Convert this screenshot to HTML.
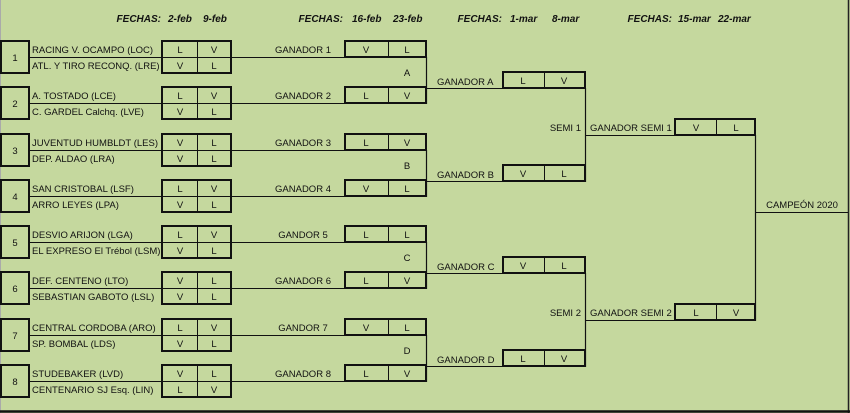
<!DOCTYPE html>
<html><head><meta charset="utf-8"><style>
html,body{margin:0;padding:0;background:#c5d89e;}
svg{display:block;}
text{font-family:"Liberation Sans",sans-serif;font-size:9.5px;fill:#111;}
.h{font-weight:bold;font-style:italic;font-size:10px;}
.c{text-anchor:middle;}
.r{text-anchor:end;}
</style></head><body>
<svg width="850" height="413" viewBox="0 0 850 413" xmlns="http://www.w3.org/2000/svg">
<rect x="0" y="0" width="850" height="413" fill="#c5d89e"/>
<line x1="0.5" y1="0" x2="0.5" y2="413" stroke="#aaa" stroke-width="1"/>
<line x1="848.5" y1="0" x2="848.5" y2="413" stroke="#222" stroke-width="1.5"/>
<line x1="0" y1="411.5" x2="850" y2="411.5" stroke="#111" stroke-width="2.5"/>
<!-- headers -->
<text class="h r" x="161" y="22">FECHAS:</text><text class="h" x="168" y="22">2-feb</text><text class="h" x="203" y="22">9-feb</text>
<text class="h r" x="343" y="22">FECHAS:</text><text class="h" x="352" y="22">16-feb</text><text class="h" x="393" y="22">23-feb</text>
<text class="h r" x="502" y="22">FECHAS:</text><text class="h" x="510" y="22">1-mar</text><text class="h" x="552" y="22">8-mar</text>
<text class="h r" x="672" y="22">FECHAS:</text><text class="h" x="678" y="22">15-mar</text><text class="h" x="718" y="22">22-mar</text>

<g stroke="#111" fill="none">
<!-- connection lines round1 -->
<line x1="29" y1="57.5" x2="426" y2="57.5" stroke-width="1"/>
<line x1="29" y1="103.5" x2="426" y2="103.5" stroke-width="1"/>
<line x1="29" y1="150.5" x2="426" y2="150.5" stroke-width="1"/>
<line x1="29" y1="196.5" x2="426" y2="196.5" stroke-width="1"/>
<line x1="29" y1="242.5" x2="426" y2="242.5" stroke-width="1"/>
<line x1="29" y1="288.5" x2="426" y2="288.5" stroke-width="1"/>
<line x1="29" y1="335.5" x2="426" y2="335.5" stroke-width="1"/>
<line x1="29" y1="381.5" x2="426" y2="381.5" stroke-width="1"/>
<line x1="426.5" y1="57" x2="426.5" y2="104" stroke-width="1.2"/>
<line x1="426.5" y1="150" x2="426.5" y2="197" stroke-width="1.2"/>
<line x1="426.5" y1="242" x2="426.5" y2="289" stroke-width="1.2"/>
<line x1="426.5" y1="335" x2="426.5" y2="382" stroke-width="1.2"/>
<!-- round3 lines -->
<line x1="426" y1="88.5" x2="585" y2="88.5" stroke-width="1"/>
<line x1="426" y1="181.5" x2="585" y2="181.5" stroke-width="1"/>
<line x1="426" y1="273.5" x2="585" y2="273.5" stroke-width="1"/>
<line x1="426" y1="366.5" x2="585" y2="366.5" stroke-width="1"/>
<line x1="585.5" y1="88" x2="585.5" y2="182" stroke-width="1.2"/>
<line x1="585.5" y1="273" x2="585.5" y2="367" stroke-width="1.2"/>
<line x1="585" y1="135.5" x2="755" y2="135.5" stroke-width="1"/>
<line x1="585" y1="320.5" x2="755" y2="320.5" stroke-width="1"/>
<line x1="755.5" y1="135" x2="755.5" y2="321" stroke-width="1.2"/>
<line x1="755" y1="212.5" x2="848" y2="212.5" stroke-width="1"/>

<!-- group boxes -->
<g stroke-width="2">
<rect x="1" y="41" width="28" height="32"/><rect x="162" y="41" width="69" height="32"/><rect x="345" y="41" width="81" height="16"/>
<rect x="1" y="87" width="28" height="32"/><rect x="162" y="87" width="69" height="32"/><rect x="345" y="87" width="81" height="16"/>
<rect x="1" y="134" width="28" height="32"/><rect x="162" y="134" width="69" height="32"/><rect x="345" y="134" width="81" height="16"/>
<rect x="1" y="180" width="28" height="32"/><rect x="162" y="180" width="69" height="32"/><rect x="345" y="180" width="81" height="16"/>
<rect x="1" y="226" width="28" height="32"/><rect x="162" y="226" width="69" height="32"/><rect x="345" y="226" width="81" height="16"/>
<rect x="1" y="272" width="28" height="32"/><rect x="162" y="272" width="69" height="32"/><rect x="345" y="272" width="81" height="16"/>
<rect x="1" y="319" width="28" height="32"/><rect x="162" y="319" width="69" height="32"/><rect x="345" y="319" width="81" height="16"/>
<rect x="1" y="365" width="28" height="32"/><rect x="162" y="365" width="69" height="32"/><rect x="345" y="365" width="81" height="16"/>
<rect x="503" y="72" width="82" height="16"/>
<rect x="503" y="165" width="82" height="16"/>
<rect x="503" y="257" width="82" height="16"/>
<rect x="503" y="350" width="82" height="16"/>
<rect x="675" y="119" width="80" height="16"/>
<rect x="675" y="304" width="80" height="16"/>
</g>
<g stroke-width="1">
<line x1="197.5" y1="41" x2="197.5" y2="73"/><line x1="388.5" y1="41" x2="388.5" y2="57"/>
<line x1="197.5" y1="87" x2="197.5" y2="119"/><line x1="388.5" y1="87" x2="388.5" y2="103"/>
<line x1="197.5" y1="134" x2="197.5" y2="166"/><line x1="388.5" y1="134" x2="388.5" y2="150"/>
<line x1="197.5" y1="180" x2="197.5" y2="212"/><line x1="388.5" y1="180" x2="388.5" y2="196"/>
<line x1="197.5" y1="226" x2="197.5" y2="258"/><line x1="388.5" y1="226" x2="388.5" y2="242"/>
<line x1="197.5" y1="272" x2="197.5" y2="304"/><line x1="388.5" y1="272" x2="388.5" y2="288"/>
<line x1="197.5" y1="319" x2="197.5" y2="351"/><line x1="388.5" y1="319" x2="388.5" y2="335"/>
<line x1="197.5" y1="365" x2="197.5" y2="397"/><line x1="388.5" y1="365" x2="388.5" y2="381"/>
<line x1="544.5" y1="72" x2="544.5" y2="88"/><line x1="544.5" y1="165" x2="544.5" y2="181"/>
<line x1="544.5" y1="257" x2="544.5" y2="273"/><line x1="544.5" y1="350" x2="544.5" y2="366"/>
<line x1="716.5" y1="119" x2="716.5" y2="135"/><line x1="716.5" y1="304" x2="716.5" y2="320"/>
</g>
</g>

<!-- group texts -->
<g>
<text class="c" x="15" y="61">1</text><text x="32" y="53">RACING V. OCAMPO (LOC)</text><text x="32" y="69">ATL. Y TIRO RECONQ. (LRE)</text>
<text class="c" x="180" y="53">L</text><text class="c" x="214" y="53">V</text><text class="c" x="180" y="69">V</text><text class="c" x="214" y="69">L</text>
<text class="c" x="303" y="53">GANADOR 1</text><text class="c" x="366" y="53">V</text><text class="c" x="407" y="53">L</text>

<text class="c" x="15" y="107">2</text><text x="32" y="99">A. TOSTADO (LCE)</text><text x="32" y="115">C. GARDEL Calchq. (LVE)</text>
<text class="c" x="180" y="99">L</text><text class="c" x="214" y="99">V</text><text class="c" x="180" y="115">V</text><text class="c" x="214" y="115">L</text>
<text class="c" x="303" y="99">GANADOR 2</text><text class="c" x="366" y="99">L</text><text class="c" x="407" y="99">V</text>

<text class="c" x="15" y="154">3</text><text x="32" y="146">JUVENTUD HUMBLDT (LES)</text><text x="32" y="162">DEP. ALDAO (LRA)</text>
<text class="c" x="180" y="146">V</text><text class="c" x="214" y="146">L</text><text class="c" x="180" y="162">V</text><text class="c" x="214" y="162">L</text>
<text class="c" x="303" y="146">GANADOR 3</text><text class="c" x="366" y="146">L</text><text class="c" x="407" y="146">V</text>

<text class="c" x="15" y="200">4</text><text x="32" y="192">SAN CRISTOBAL (LSF)</text><text x="32" y="208">ARRO LEYES (LPA)</text>
<text class="c" x="180" y="192">L</text><text class="c" x="214" y="192">V</text><text class="c" x="180" y="208">V</text><text class="c" x="214" y="208">L</text>
<text class="c" x="303" y="192">GANADOR 4</text><text class="c" x="366" y="192">V</text><text class="c" x="407" y="192">L</text>

<text class="c" x="15" y="246">5</text><text x="32" y="238">DESVIO ARIJON (LGA)</text><text x="32" y="254">EL EXPRESO El Trébol (LSM)</text>
<text class="c" x="180" y="238">L</text><text class="c" x="214" y="238">V</text><text class="c" x="180" y="254">V</text><text class="c" x="214" y="254">L</text>
<text class="c" x="303" y="238">GANDOR 5</text><text class="c" x="366" y="238">L</text><text class="c" x="407" y="238">L</text>

<text class="c" x="15" y="292">6</text><text x="32" y="284">DEF. CENTENO (LTO)</text><text x="32" y="300">SEBASTIAN GABOTO (LSL)</text>
<text class="c" x="180" y="284">V</text><text class="c" x="214" y="284">L</text><text class="c" x="180" y="300">V</text><text class="c" x="214" y="300">L</text>
<text class="c" x="303" y="284">GANADOR 6</text><text class="c" x="366" y="284">L</text><text class="c" x="407" y="284">V</text>

<text class="c" x="15" y="339">7</text><text x="32" y="331">CENTRAL CORDOBA (ARO)</text><text x="32" y="347">SP. BOMBAL (LDS)</text>
<text class="c" x="180" y="331">L</text><text class="c" x="214" y="331">V</text><text class="c" x="180" y="347">V</text><text class="c" x="214" y="347">L</text>
<text class="c" x="303" y="331">GANDOR 7</text><text class="c" x="366" y="331">V</text><text class="c" x="407" y="331">L</text>

<text class="c" x="15" y="385">8</text><text x="32" y="377">STUDEBAKER (LVD)</text><text x="32" y="393">CENTENARIO SJ Esq. (LIN)</text>
<text class="c" x="180" y="377">V</text><text class="c" x="214" y="377">L</text><text class="c" x="180" y="393">L</text><text class="c" x="214" y="393">V</text>
<text class="c" x="303" y="377">GANADOR 8</text><text class="c" x="366" y="377">L</text><text class="c" x="407" y="377">V</text>

<text class="c" x="407" y="76">A</text><text class="c" x="407" y="169">B</text><text class="c" x="407" y="261">C</text><text class="c" x="407" y="354">D</text>

<text x="437" y="85">GANADOR A</text><text class="c" x="523" y="84">L</text><text class="c" x="564" y="84">V</text>
<text x="437" y="178">GANADOR B</text><text class="c" x="523" y="177">V</text><text class="c" x="564" y="177">L</text>
<text x="437" y="270">GANADOR C</text><text class="c" x="523" y="269">V</text><text class="c" x="564" y="269">L</text>
<text x="437" y="363">GANADOR D</text><text class="c" x="523" y="362">L</text><text class="c" x="564" y="362">V</text>

<text class="r" x="581" y="131">SEMI 1</text><text x="590" y="131">GANADOR SEMI 1</text><text class="c" x="696" y="131">V</text><text class="c" x="736" y="131">L</text>
<text class="r" x="581" y="316">SEMI 2</text><text x="590" y="316">GANADOR SEMI 2</text><text class="c" x="696" y="316">L</text><text class="c" x="736" y="316">V</text>

<text class="c" x="802" y="208">CAMPEÓN 2020</text>
</g>
</svg>
</body></html>
